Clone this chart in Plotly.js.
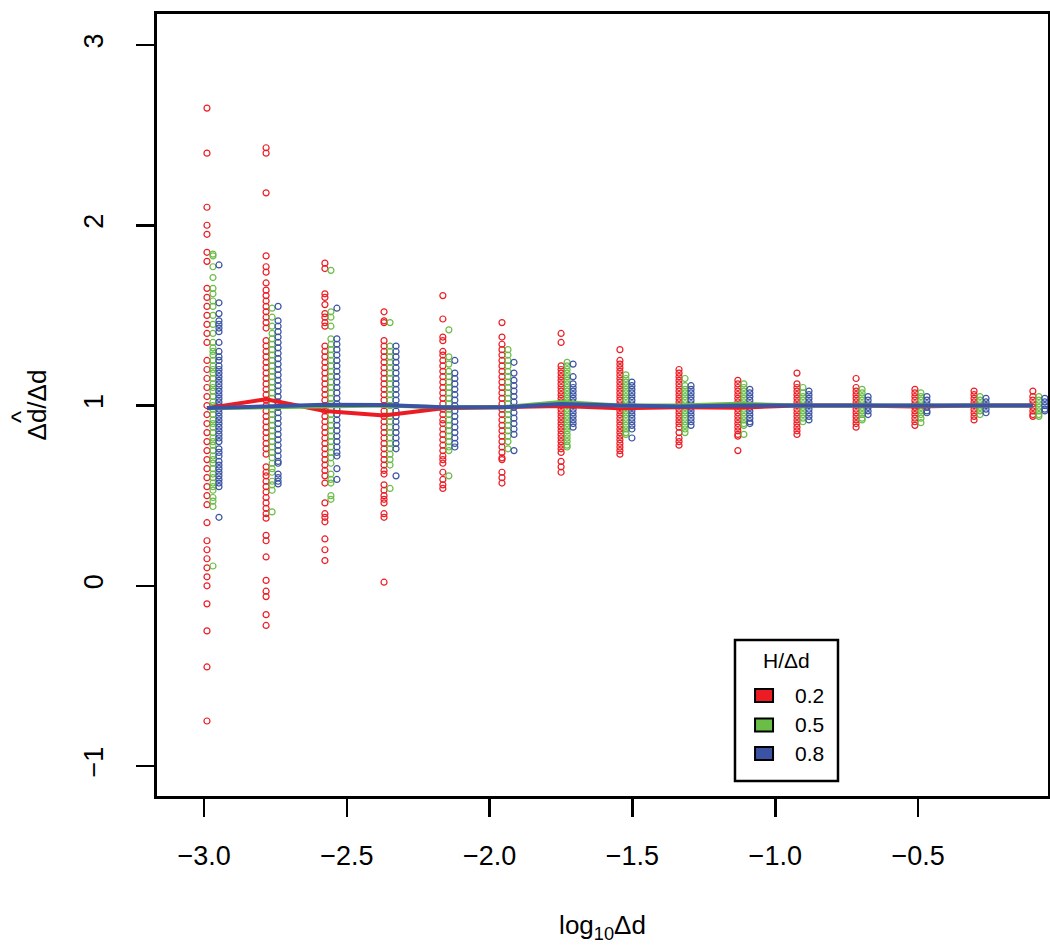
<!DOCTYPE html>
<html>
<head>
<meta charset="utf-8">
<script src="https://cdn.plot.ly/plotly-3.0.1.min.js"></script>
<style>html,body{margin:0;padding:0;background:#fff}</style>
</head>
<body>
<div id="chart" style="width:1050px;height:952px"></div>
<script>
// ---- data ----
var xPositions = [-2.99,-2.783,-2.577,-2.370,-2.164,-1.957,-1.750,-1.544,-1.337,-1.131,-0.924,-0.717,-0.511,-0.304,-0.098];
var seriesLabels = ["0.2","0.5","0.8"];
var legendTitle = "H/Δd";
var xTickVals = [-3.0,-2.5,-2.0,-1.5,-1.0,-0.5];
var xTickText = ["−3.0","−2.5","−2.0","−1.5","−1.0","−0.5"];
var yTickVals = [-1,0,1,2,3];
var xTitle = "log<sub>10</sub>Δd";
var yTitle = "Δd/Δd";
var yTitleHat = "^";

var redVals = [
 [2.65,2.40,2.10,2.00,1.95,1.85,1.80,1.65,1.60,1.55,1.50,1.45,1.40,1.35,1.25,1.20,1.15,1.10,1.05,1.00,0.95,0.90,0.85,0.80,0.75,0.70,0.65,0.60,0.55,0.50,0.45,0.35,0.25,0.20,0.15,0.10,0.05,0.00,-0.10,-0.25,-0.45,-0.75],
 [2.43,2.40,2.18,1.83,1.77,1.74,1.68,1.64,1.61,1.58,1.55,1.52,1.49,1.46,1.43,1.36,1.33,1.30,1.27,1.24,1.21,1.18,1.15,1.12,1.09,1.06,1.03,1.00,0.97,0.94,0.91,0.88,0.85,0.82,0.79,0.76,0.73,0.66,0.63,0.61,0.58,0.55,0.52,0.49,0.46,0.43,0.40,0.375,0.28,0.25,0.16,0.03,-0.03,-0.06,-0.16,-0.22],
 [1.79,1.76,1.62,1.60,1.56,1.51,1.49,1.46,1.44,1.33,1.30,1.27,1.24,1.21,1.18,1.15,1.12,1.09,1.06,1.03,1.00,0.97,0.94,0.91,0.88,0.85,0.82,0.79,0.76,0.73,0.70,0.67,0.64,0.61,0.57,0.46,0.40,0.38,0.355,0.26,0.20,0.14],
 [1.52,1.47,1.46,1.36,1.33,1.30,1.27,1.24,1.21,1.18,1.15,1.12,1.09,1.06,1.03,1.00,0.97,0.94,0.91,0.88,0.85,0.82,0.79,0.76,0.73,0.70,0.67,0.64,0.62,0.56,0.53,0.50,0.48,0.46,0.40,0.38,0.02],
 [1.61,1.48,1.38,1.36,1.30,1.28,1.25,1.22,1.19,1.16,1.13,1.10,1.07,1.04,1.01,0.98,0.95,0.92,0.90,0.87,0.84,0.81,0.78,0.75,0.72,0.70,0.68,0.63,0.59,0.56,0.54],
 [1.46,1.38,1.34,1.31,1.28,1.25,1.22,1.19,1.16,1.13,1.10,1.07,1.04,1.01,0.98,0.95,0.92,0.89,0.86,0.83,0.80,0.77,0.74,0.71,0.70,0.63,0.60,0.57],
 [1.40,1.35,1.22,1.20,1.18,1.16,1.14,1.12,1.10,1.08,1.06,1.04,1.02,1.00,0.98,0.96,0.94,0.92,0.90,0.88,0.86,0.84,0.82,0.80,0.78,0.76,0.74,0.69,0.66,0.63],
 [1.31,1.25,1.23,1.21,1.19,1.17,1.15,1.13,1.11,1.09,1.07,1.05,1.03,1.01,0.99,0.97,0.95,0.93,0.91,0.89,0.87,0.85,0.83,0.81,0.79,0.77,0.75,0.73],
 [1.20,1.18,1.16,1.14,1.12,1.10,1.08,1.06,1.04,1.02,1.00,0.98,0.96,0.94,0.92,0.90,0.88,0.85,0.82,0.80,0.78],
 [1.14,1.12,1.10,1.08,1.06,1.04,1.02,1.00,0.98,0.96,0.94,0.92,0.90,0.88,0.86,0.84,0.83,0.75],
 [1.18,1.12,1.10,1.08,1.06,1.04,1.02,1.00,0.98,0.96,0.94,0.92,0.90,0.88,0.86,0.84],
 [1.15,1.10,1.08,1.06,1.04,1.02,1.00,0.98,0.96,0.94,0.92,0.90,0.88],
 [1.09,1.07,1.05,1.03,1.01,0.99,0.97,0.95,0.93,0.91,0.89],
 [1.08,1.06,1.04,1.02,1.00,0.98,0.96,0.94,0.92],
 [1.08,1.05,1.03,1.01,0.99,0.97,0.95,0.94]
];
var greenVals = [
 [1.84,1.83,1.77,1.71,1.65,1.62,1.58,1.55,1.50,1.45,1.40,1.35,1.32,1.30,1.28,1.25,1.22,1.20,1.18,1.15,1.12,1.10,1.08,1.05,1.02,1.00,0.98,0.95,0.92,0.90,0.88,0.85,0.82,0.80,0.78,0.75,0.72,0.70,0.68,0.65,0.62,0.60,0.57,0.55,0.53,0.49,0.47,0.44,0.11],
 [1.54,1.49,1.44,1.40,1.37,1.34,1.31,1.28,1.25,1.22,1.19,1.16,1.13,1.10,1.07,1.04,1.01,0.98,0.95,0.92,0.89,0.86,0.83,0.80,0.77,0.74,0.71,0.68,0.65,0.63,0.58,0.56,0.53,0.41],
 [1.75,1.52,1.49,1.44,1.37,1.34,1.31,1.28,1.25,1.22,1.19,1.16,1.13,1.10,1.07,1.04,1.01,0.98,0.95,0.92,0.89,0.86,0.83,0.80,0.77,0.74,0.71,0.68,0.62,0.59,0.57,0.50,0.48],
 [1.46,1.33,1.30,1.27,1.24,1.21,1.18,1.15,1.12,1.09,1.06,1.03,1.00,0.97,0.94,0.91,0.88,0.85,0.82,0.79,0.76,0.73,0.70,0.67,0.54],
 [1.42,1.27,1.23,1.19,1.16,1.13,1.10,1.07,1.04,1.01,0.98,0.95,0.92,0.89,0.86,0.83,0.80,0.77,0.75,0.61],
 [1.31,1.28,1.25,1.22,1.19,1.16,1.13,1.10,1.07,1.04,1.01,0.98,0.95,0.92,0.89,0.86,0.83,0.80,0.76],
 [1.24,1.22,1.20,1.18,1.16,1.14,1.12,1.10,1.08,1.06,1.04,1.02,1.00,0.98,0.96,0.94,0.92,0.90,0.88,0.86,0.84,0.82,0.80,0.78,0.77],
 [1.17,1.15,1.13,1.11,1.09,1.07,1.05,1.03,1.01,0.99,0.97,0.95,0.93,0.91,0.89,0.87,0.85,0.84],
 [1.15,1.11,1.09,1.07,1.05,1.03,1.01,0.99,0.97,0.95,0.93,0.91,0.89,0.87,0.85],
 [1.12,1.10,1.08,1.06,1.04,1.02,1.00,0.98,0.96,0.94,0.92,0.90,0.89,0.84],
 [1.10,1.07,1.05,1.03,1.01,0.99,0.97,0.95,0.93,0.91],
 [1.09,1.07,1.05,1.03,1.01,0.99,0.97,0.95,0.93,0.92],
 [1.07,1.05,1.03,1.01,0.99,0.97,0.95,0.93,0.905],
 [1.05,1.03,1.01,0.99,0.97,0.95],
 [1.05,1.03,1.01,0.99,0.97,0.95,0.94]
];
var blueVals = [
 [1.78,1.57,1.51,1.47,1.45,1.43,1.41,1.35,1.30,1.27,1.25,1.22,1.20,1.18,1.16,1.14,1.12,1.10,1.08,1.06,1.04,1.02,1.00,0.98,0.96,0.94,0.92,0.90,0.88,0.86,0.84,0.82,0.80,0.76,0.74,0.72,0.69,0.67,0.65,0.63,0.61,0.59,0.57,0.55,0.38],
 [1.55,1.47,1.44,1.41,1.38,1.35,1.32,1.29,1.26,1.23,1.20,1.17,1.14,1.11,1.08,1.05,1.02,0.99,0.96,0.93,0.90,0.87,0.84,0.81,0.78,0.75,0.72,0.69,0.68,0.62,0.60,0.58,0.565],
 [1.54,1.37,1.34,1.31,1.28,1.25,1.22,1.19,1.16,1.13,1.10,1.07,1.04,1.01,0.98,0.95,0.92,0.89,0.86,0.83,0.80,0.77,0.74,0.72,0.65,0.59],
 [1.33,1.30,1.27,1.24,1.21,1.18,1.15,1.12,1.09,1.06,1.03,1.00,0.97,0.94,0.91,0.88,0.85,0.82,0.79,0.76,0.61],
 [1.25,1.18,1.15,1.12,1.09,1.06,1.03,1.00,0.97,0.94,0.91,0.88,0.85,0.82,0.79,0.77],
 [1.24,1.18,1.14,1.11,1.08,1.05,1.02,0.99,0.96,0.93,0.90,0.87,0.84,0.75],
 [1.23,1.16,1.12,1.10,1.08,1.06,1.04,1.02,1.00,0.98,0.96,0.94,0.92,0.90,0.88],
 [1.13,1.11,1.09,1.07,1.05,1.03,1.01,0.99,0.97,0.95,0.93,0.91,0.89,0.87,0.82],
 [1.11,1.09,1.07,1.05,1.03,1.01,0.99,0.97,0.95,0.93,0.91,0.89],
 [1.09,1.07,1.05,1.03,1.01,0.99,0.97,0.95,0.93,0.91,0.90],
 [1.08,1.06,1.04,1.02,1.00,0.98,0.96,0.94,0.92],
 [1.05,1.03,1.01,0.99,0.97,0.95],
 [1.05,1.03,1.01,0.99,0.97,0.96],
 [1.04,1.02,1.00,0.98,0.96],
 [1.04,1.02,1.00,0.98,0.97]
];
var meanRed   = [0.985,1.035,0.970,0.945,0.985,0.990,0.997,0.985,0.990,0.988,1.000,1.000,0.995,1.000,1.000];
var meanGreen = [0.985,0.990,1.000,1.000,0.990,0.990,1.020,1.000,1.000,1.010,1.000,1.000,1.000,1.000,1.000];
var meanBlue  = [0.986,0.997,1.005,1.003,0.990,0.990,1.008,1.000,0.995,1.000,1.000,1.000,1.000,1.000,1.000];

// ---- styling ----
var colors = ["#ED1C24","#6ABD45","#3A53A4"];
var xOffsets = [0, 0.021, 0.042];
var FONT = "Liberation Sans, Arial, Helvetica, sans-serif";

function pointTrace(vals, k) {
  var xs = [], ys = [];
  vals.forEach(function (col, i) {
    col.forEach(function (v) { xs.push(xPositions[i] + xOffsets[k]); ys.push(v); });
  });
  return {
    x: xs, y: ys, type: "scatter", mode: "markers", showlegend: false, hoverinfo: "skip",
    marker: {symbol: "circle-open", size: 6, color: colors[k], line: {width: 1.2, color: colors[k]}}
  };
}
function lineTrace(means, k) {
  return {
    x: xPositions, y: means, type: "scatter", mode: "lines", showlegend: false, hoverinfo: "skip",
    line: {color: colors[k], width: 4}
  };
}

var traces = [
  pointTrace(redVals, 0), pointTrace(greenVals, 1), pointTrace(blueVals, 2),
  lineTrace(meanRed, 0), lineTrace(meanGreen, 1), lineTrace(meanBlue, 2)
];

// legend box (paper coordinates)
var L = {x0: 0.6487, x1: 0.7643, y0: 0.0192, y1: 0.1995};
var swX0 = 0.6712, swX1 = 0.6914, labX = 0.7138;
var swY = [0.1285, 0.0908, 0.0544], swH = 0.0083;
var shapes = [{type: "rect", xref: "paper", yref: "paper", x0: L.x0, x1: L.x1, y0: L.y0, y1: L.y1,
  line: {color: "#000", width: 2.5}, fillcolor: "#fff", layer: "above"}];
var annotations = [
  {xref: "paper", yref: "paper", x: (L.x0 + L.x1) / 2, y: 0.1739, text: legendTitle,
   showarrow: false, xanchor: "center", yanchor: "middle", font: {family: FONT, size: 21, color: "#000"}},
  {xref: "paper", yref: "paper", x: -0.1525, y: 0.4847, text: yTitleHat, textangle: -90,
   showarrow: false, xanchor: "center", yanchor: "middle", font: {family: FONT, size: 26, color: "#000"}}
];
seriesLabels.forEach(function (lab, k) {
  shapes.push({type: "rect", xref: "paper", yref: "paper", x0: swX0, x1: swX1, y0: swY[k] - swH, y1: swY[k] + swH,
    line: {color: "#000", width: 2}, fillcolor: colors[k], layer: "above"});
  annotations.push({xref: "paper", yref: "paper", x: labX, y: swY[k], text: lab, showarrow: false,
    xanchor: "left", yanchor: "middle", font: {family: FONT, size: 21, color: "#000"}});
});

var layout = {
  width: 1050, height: 952,
  margin: {l: 157, r: 2, t: 14, b: 156},
  paper_bgcolor: "#fff", plot_bgcolor: "#fff",
  font: {family: FONT, color: "#000", size: 26},
  showlegend: false,
  xaxis: {
    range: [-3.165, -0.045], showgrid: false, zeroline: false,
    showline: true, mirror: true, linecolor: "#000", linewidth: 3,
    ticks: "outside", ticklen: 18, tickwidth: 2.5, tickcolor: "#000",
    tickvals: xTickVals, ticktext: xTickText, ticklabelstandoff: 16,
    tickfont: {family: FONT, size: 27, color: "#000"},
    title: {text: xTitle, font: {family: FONT, size: 26, color: "#000"}, standoff: 46}
  },
  yaxis: {
    range: [-1.166, 3.172], showgrid: false, zeroline: false,
    showline: true, mirror: true, linecolor: "#000", linewidth: 3,
    ticks: "outside", ticklen: 18, tickwidth: 2.5, tickcolor: "#000",
    tickvals: yTickVals, tickangle: -90, ticklabelstandoff: 22,
    tickfont: {family: FONT, size: 27, color: "#000"},
    title: {text: yTitle, font: {family: FONT, size: 26, color: "#000"}, standoff: 26}
  },
  shapes: shapes,
  annotations: annotations
};

Plotly.newPlot("chart", traces, layout, {staticPlot: true, displayModeBar: false});
</script>
</body>
</html>
